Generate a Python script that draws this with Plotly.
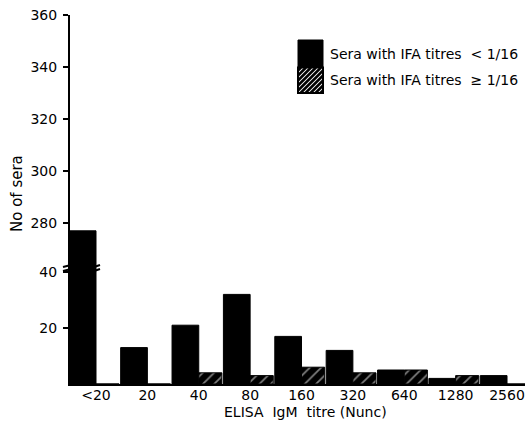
import plotly.graph_objects as go

categories = ["<20", "20", "40", "80", "160", "320", "640", "1280", "2560"]
ifa_below = [277, 13, 21, 32, 17, 12, 5, 2, 3]      # Sera with IFA titres < 1/16
ifa_above = [0, 0, 4, 3, 6, 4, 5, 3, 0]             # Sera with IFA titres >= 1/16
lower_ticks = [20, 40]
upper_ticks = [280, 300, 320, 340, 360]

W, H = 525, 427
L, R, T, B = 70, 0, 15, 43
PW, PH = W - L - R, H - T - B
BREAK_PX = 268  # pixel row of the axis break

def px(x):
    return (x - L) / PW

def py(y):
    return (H - B - y) / PH

split = py(BREAK_PX)
FONT = "DejaVu Sans"

fig = go.Figure()
for yax in ("y", "y2"):
    fig.add_trace(go.Bar(
        x=categories, y=ifa_below, xaxis="x", yaxis=yax,
        width=0.52, offset=-0.52,
        marker=dict(color="black", line=dict(color="black", width=1)),
        showlegend=False, hoverinfo="skip"))
    fig.add_trace(go.Bar(
        x=categories, y=ifa_above, xaxis="x", yaxis=yax,
        width=0.45, offset=0.0,
        marker=dict(color="black", line=dict(color="black", width=1),
                    pattern=dict(shape="/", fgcolor="white", bgcolor="black",
                                 size=8, solidity=0.22)),
        showlegend=False, hoverinfo="skip"))

axis_common = dict(showline=True, linecolor="black", linewidth=2,
                   ticks="outside", ticklen=5, tickwidth=2, tickcolor="black",
                   showgrid=False, zeroline=False, automargin=False,
                   ticklabelstandoff=3,
                   tickfont=dict(family=FONT, size=14, color="black"))

fig.update_layout(
    width=W, height=H,
    margin=dict(l=L, r=R, t=T, b=B, autoexpand=False),
    paper_bgcolor="white", plot_bgcolor="white",
    barmode="overlay",
    xaxis=dict(type="category", range=[-0.506, 8.35], showline=True,
               linecolor="black", linewidth=2, ticks="", showgrid=False,
               zeroline=False, anchor="y", automargin=False,
               ticklabelstandoff=-3,
               tickfont=dict(family=FONT, size=14, color="black")),
    yaxis=dict(domain=[0, split], range=[0, 41.43], tickvals=lower_ticks,
               anchor="x", **axis_common),
    yaxis2=dict(domain=[split, 1], range=[262.7, 360], tickvals=upper_ticks,
                anchor="x", **axis_common),
)

shapes = []
# axis break marks
for (xa, xb) in [(63, 71), (94, 100)]:
    for dy in (-2, 2):
        shapes.append(dict(type="line", xref="paper", yref="paper",
                           x0=px(xa), x1=px(xb), y0=py(BREAK_PX + dy + 1), y1=py(BREAK_PX + dy - 1),
                           line=dict(color="black", width=2)))

# legend swatches
bx0, bx1 = 298, 323
shapes.append(dict(type="rect", xref="paper", yref="paper",
                   x0=px(bx0), x1=px(bx1), y0=py(40), y1=py(67.5),
                   fillcolor="black", line=dict(color="black", width=1)))
hy0, hy1 = 67.5, 93
shapes.append(dict(type="rect", xref="paper", yref="paper",
                   x0=px(bx0), x1=px(bx1), y0=py(hy0), y1=py(hy1),
                   fillcolor="white", line=dict(color="black", width=2)))
c = bx0 + hy0 + 3
while c < bx1 + hy1:
    xa = max(bx0, c - hy1)
    xb = min(bx1, c - hy0)
    if xb > xa:
        shapes.append(dict(type="line", xref="paper", yref="paper",
                           x0=px(xa), y0=py(c - xa), x1=px(xb), y1=py(c - xb),
                           line=dict(color="black", width=2.5)))
    c += 5
fig.update_layout(shapes=shapes)

annotations = [
    dict(text="Sera with IFA titres  < 1/16", x=px(328), y=py(54),
         xanchor="left", yanchor="middle", size=14),
    dict(text="Sera with IFA titres  \u2265 1/16", x=px(328), y=py(80),
         xanchor="left", yanchor="middle", size=14),
    dict(text="ELISA  IgM  titre (Nunc)", x=px(305), y=py(412),
         xanchor="center", yanchor="middle", size=14),
    dict(text="No of sera", x=px(17), y=py(194), textangle=-90,
         xanchor="center", yanchor="middle", size=15),
]
for a in annotations:
    s = a.pop("size")
    a.update(xref="paper", yref="paper", showarrow=False,
             font=dict(family=FONT, size=s, color="black"))
fig.update_layout(annotations=annotations)

fig.write_html("out.html", config={"displayModeBar": False},
               post_script="document.body.style.margin='0';document.body.style.padding='0';")
